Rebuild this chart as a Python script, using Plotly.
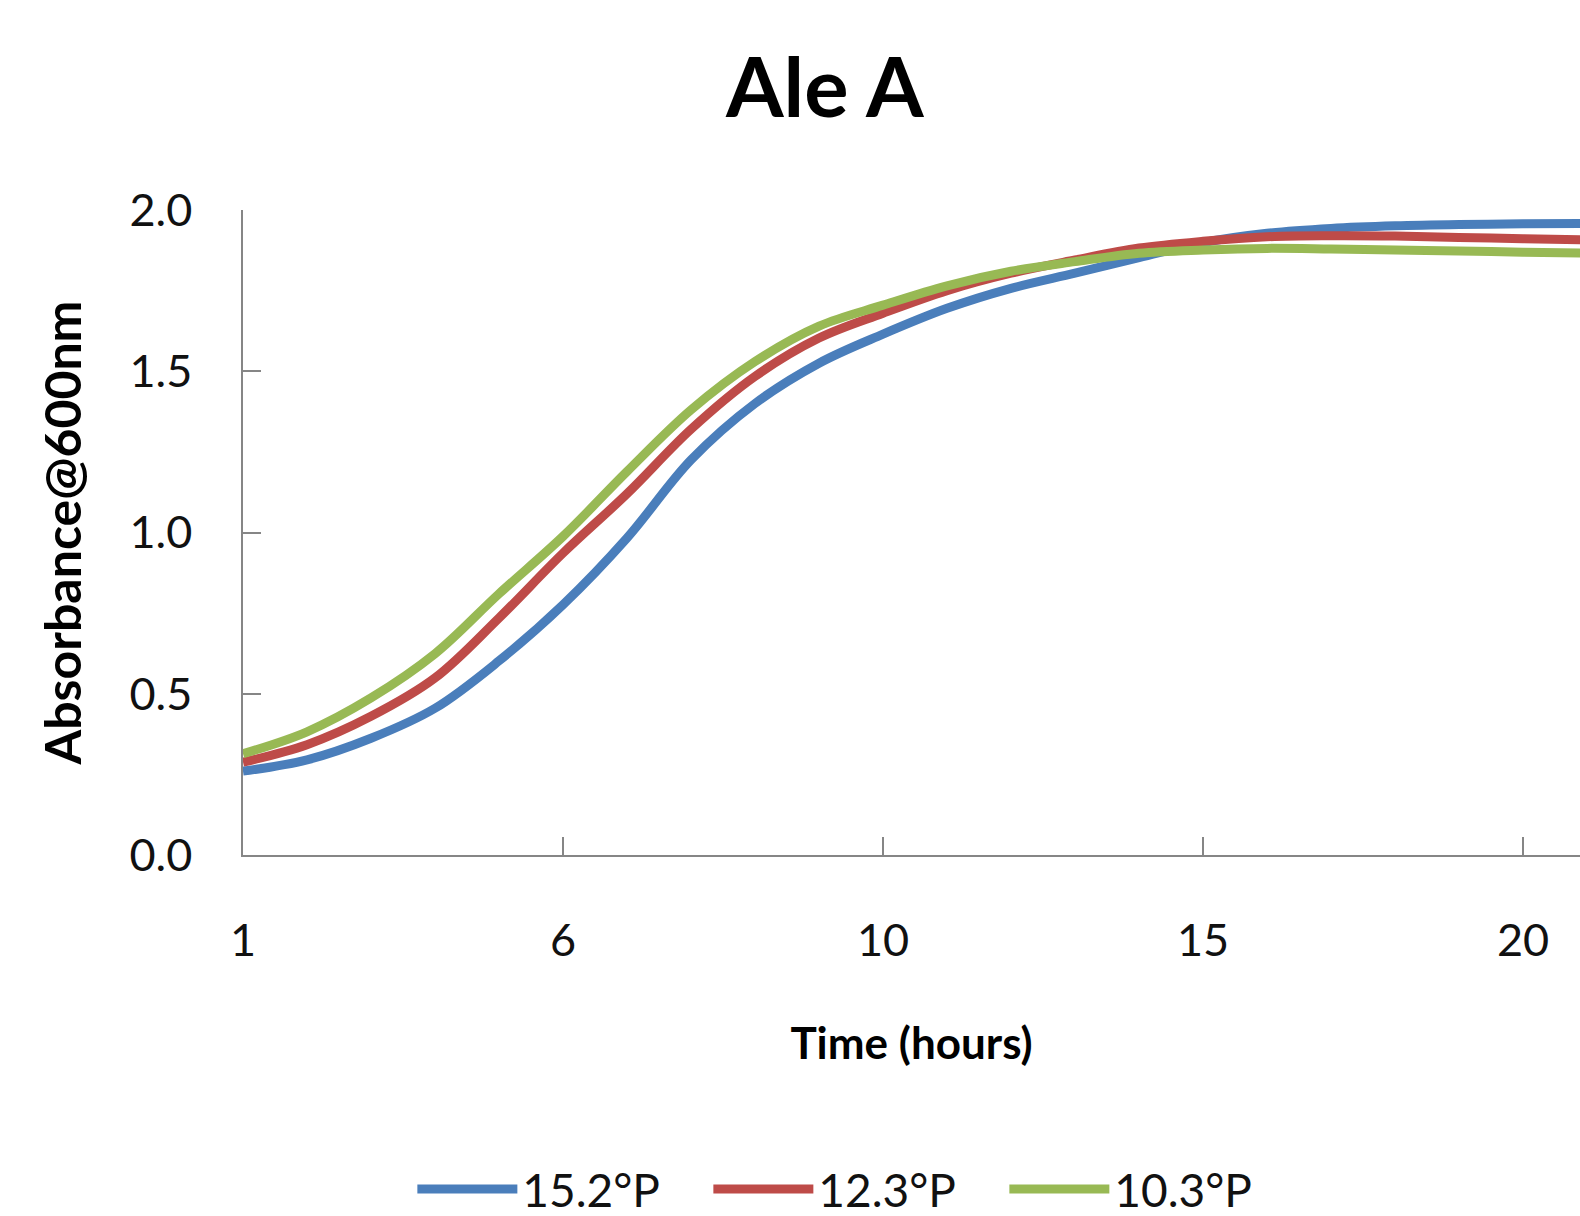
import plotly.graph_objects as go

hours = ["1", "2", "3", "4", "5", "6", "7", "7.5", "8", "9", "10", "11",
         "12", "13", "14", "15", "16", "17", "18", "19", "20", "21"]
tick_labels = ["1", "6", "10", "15", "20"]

p152 = [0.26, 0.295, 0.362, 0.455, 0.602, 0.776, 0.983, 1.225, 1.40, 1.525,
        1.615, 1.695, 1.757, 1.804, 1.852, 1.899, 1.928, 1.943, 1.951, 1.955,
        1.957, 1.958]
p123 = [0.288, 0.342, 0.43, 0.549, 0.735, 0.936, 1.12, 1.32, 1.484, 1.603,
        1.68, 1.75, 1.804, 1.845, 1.882, 1.903, 1.917, 1.92, 1.919, 1.915,
        1.911, 1.907]
p103 = [0.314, 0.382, 0.487, 0.624, 0.81, 0.988, 1.189, 1.38, 1.53, 1.64,
        1.705, 1.765, 1.81, 1.84, 1.866, 1.876, 1.881, 1.879, 1.876, 1.873,
        1.869, 1.866]

series = [("15.2°P", p152, "#4A7EBB"),
          ("12.3°P", p123, "#BE4B48"),
          ("10.3°P", p103, "#98B954")]

FONT = "Lato"
AXIS = "#868686"

fig = go.Figure()
for name, vals, col in series:
    fig.add_trace(go.Scatter(x=hours, y=vals, name=name, mode="lines",
                             line=dict(color=col, width=9, shape="spline",
                                       smoothing=1.0)))

fig.update_layout(
    width=1580, height=1216,
    margin=dict(l=243, r=0, t=210, b=360.5),
    paper_bgcolor="white", plot_bgcolor="white",
    font=dict(family=FONT, color="#111111"),
    title=dict(text="<b>Ale A</b>", font=dict(family=FONT, size=83, color="black"),
               x=0.522, xref="container", xanchor="center",
               y=1 - 88 / 1216, yref="container", yanchor="middle"),
    showlegend=True,
    legend=dict(orientation="h", xref="container", yref="container",
                x=0.542, xanchor="center", y=1 - 1189 / 1216, yanchor="middle",
                font=dict(family=FONT, size=46, color="#111111"),
                entrywidth=181, itemwidth=100, traceorder="normal"),
)

fig.update_xaxes(
    type="category", range=[0, 20.89],
    tickmode="array", tickvals=tick_labels, ticktext=tick_labels,
    ticks="inside", ticklen=18, tickwidth=1.5, tickcolor=AXIS,
    showline=True, linecolor=AXIS, linewidth=1.5,
    showgrid=False, zeroline=False,
    tickfont=dict(family=FONT, size=45, color="#111111"),
    ticklabelstandoff=45,
    title=dict(text="<b>Time (hours)</b>", font=dict(family=FONT, size=44, color="black"),
               standoff=63),
)
fig.update_yaxes(
    range=[0, 2], tickmode="array", tickvals=[0, 0.5, 1.0, 1.5, 2.0],
    ticktext=["0.0", "0.5", "1.0", "1.5", "2.0"],
    ticks="inside", ticklen=18, tickwidth=1.5, tickcolor=AXIS,
    showline=True, linecolor=AXIS, linewidth=1.5,
    showgrid=False, zeroline=False,
    tickfont=dict(family=FONT, size=45, color="#111111"),
    ticklabelstandoff=40,
    title=dict(text="<b>Absorbance@600nm</b>", font=dict(family=FONT, size=50, color="black"),
               standoff=32),
)

fig.write_html("out.html")
